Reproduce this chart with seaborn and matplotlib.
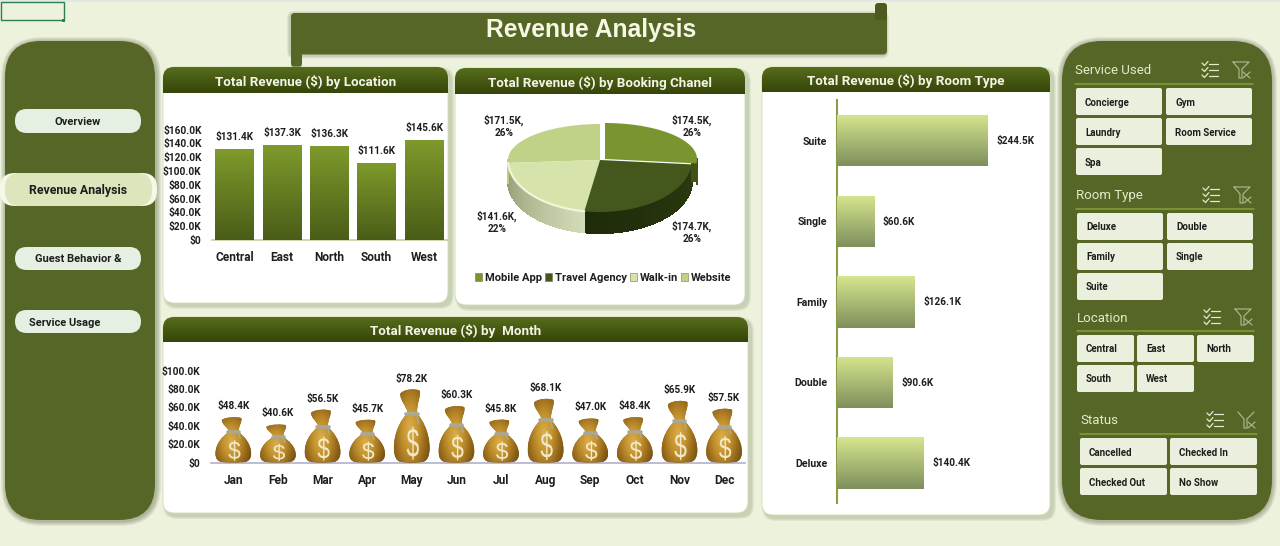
import numpy as np
import seaborn as sns
import matplotlib
matplotlib.use("Agg")
import matplotlib.pyplot as plt
from matplotlib.colors import LinearSegmentedColormap, to_rgb
from matplotlib.font_manager import FontProperties
from matplotlib.patches import FancyBboxPatch, PathPatch, Patch, Polygon, Rectangle
from matplotlib.path import Path
from matplotlib.textpath import TextPath

location_names = ["Central", "East", "North", "South", "West"]
location_revenue = [131.4, 137.3, 136.3, 111.6, 145.6]

channel_names = ["Mobile App", "Travel Agency", "Walk-in", "Website"]
channel_revenue = [174.5, 174.7, 141.6, 171.5]
channel_percent = [26, 26, 22, 26]

month_names = ["Jan", "Feb", "Mar", "Apr", "May", "Jun", "Jul", "Aug", "Sep", "Oct", "Nov", "Dec"]
month_revenue = [48.4, 40.6, 56.5, 45.7, 78.2, 60.3, 45.8, 68.1, 47.0, 48.4, 65.9, 57.5]

room_names = ["Suite", "Single", "Family", "Double", "Deluxe"]
room_revenue = [244.5, 60.6, 126.1, 90.6, 140.4]

location_ticks = [0, 20, 40, 60, 80, 100, 120, 140, 160]
month_ticks = [0, 20, 40, 60, 80, 100]

nav_items = ["Overview", "Revenue Analysis", "Guest Behavior &", "Service Usage"]
service_items = ["Concierge", "Gym", "Laundry", "Room Service", "Spa"]
room_items = ["Deluxe", "Double", "Family", "Single", "Suite"]
location_items = ["Central", "East", "North", "South", "West"]
status_items = ["Cancelled", "Checked In", "Checked Out", "No Show"]

BG = "#ecf2dc"
OLIVE = "#556626"
TEXT = "#1e1e1e"
W, H = 1280, 546


def money(v):
    return "$0" if v == 0 else f"${v:.1f}K"


def axes_px(x0, y0, x1, y1):
    # axes placed by pixel box, y counted from the top like the screenshot
    ax = fig.add_axes([x0 / W, 1 - y1 / H, (x1 - x0) / W, (y1 - y0) / H])
    ax.patch.set_visible(False)
    return ax


def round_box(x0, y0, x1, y1, r, color, z=1, alpha=1.0, ec="none", lw=0):
    box = FancyBboxPatch((x0, y0), x1 - x0, y1 - y0, boxstyle=f"round,pad=0,rounding_size={r}",
                         fc=color, ec=ec, lw=lw, alpha=alpha, zorder=z)
    bg.add_patch(box)
    return box


def soft_shadow(x0, y0, x1, y1, r, dx=2, dy=3, spread=5, color="#3c4526", z=0.5):
    for i in range(spread, 0, -1):
        round_box(x0 + dx - i, y0 + dy - i, x1 + dx + i, y1 + dy + i, r + i, color, z=z, alpha=0.08)


def gradient_fill(ax, x0, x1, y_top, y_bottom, top, bottom, clip, z):
    c0, c1 = np.array(to_rgb(top)), np.array(to_rgb(bottom))
    t = np.linspace(0, 1, 64)[:, None, None]
    img = c0[None, None, :] * (1 - t) + c1[None, None, :] * t
    im = ax.imshow(img, extent=[x0, x1, y_bottom, y_top], origin="upper", aspect="auto", zorder=z)
    im.set_clip_path(clip)
    return im


def card(x0, y0, x1, y1, header_h, title):
    soft_shadow(x0, y0, x1, y1, 11, dx=3, dy=3, spread=3, color="#4d5a2c")
    body = round_box(x0, y0, x1, y1, 11, "white", z=1, ec="#d3dbb6", lw=0.6)
    gradient_fill(bg, x0, x1, y0, y0 + header_h, "#566d1c", "#364509", body, 1.5)
    bg.text((x0 + x1) / 2, y0 + header_h / 2 + 2, title, color="#f2f5e6", fontsize=9.6,
            fontweight="bold", ha="center", va="center", zorder=2)


def style_axes(ax):
    sns.despine(ax=ax, left=True, top=True, right=True)
    ax.set_xlabel("")
    ax.set_ylabel("")
    ax.tick_params(length=0, labelcolor=TEXT)
    ax.tick_params(axis="x", labelsize=8.6)
    ax.tick_params(axis="y", labelsize=7.3)
    for lab in ax.get_xticklabels() + ax.get_yticklabels():
        lab.set_fontweight("bold")


def list_icon(cx, cy, color="#e4ebcc"):
    for dy in (-6, 0, 6):
        bg.plot([cx - 1, cx + 8], [cy + dy, cy + dy], color=color, lw=0.9, zorder=3)
        bg.plot([cx - 8, cx - 5.5, cx - 2], [cy + dy - 1, cy + dy + 1.5, cy + dy - 2.5], color=color, lw=0.9, zorder=3)


def filter_icon(cx, cy, color="#a6b58a", top=True):
    xs = [cx - 8, cx + 8, cx + 1, cx + 1, cx - 2, cx - 2, cx - 8]
    ys = [cy - 8, cy - 8, cy - 1, cy + 8, cy + 8, cy - 1, cy - 8]
    if not top:
        xs, ys = xs[1:], ys[1:]
    bg.plot(xs, ys, color=color, lw=0.9, zorder=3)
    bg.plot([cx + 2, cx + 9], [cy + 2, cy + 8], color=color, lw=0.9, zorder=3)
    bg.plot([cx + 2, cx + 9], [cy + 8, cy + 2], color=color, lw=0.9, zorder=3)


def slicer(title, tx, ty, line_y, line_x1, icons, items, cols, first_y, top_filter=True):
    bg.text(tx, ty + 1, title, color="#e4ebcc", fontsize=9.5, ha="left", va="center", zorder=3)
    bg.plot([tx, line_x1], [line_y, line_y], color="#86a034", lw=1.1, zorder=3)
    list_icon(icons[0], ty)
    filter_icon(icons[1], ty, top=top_filter)
    for n, item in enumerate(items):
        row, col = divmod(n, len(cols))
        x0, x1 = cols[col]
        y0 = first_y + row * 30
        round_box(x0, y0, x1, y0 + 27, 2, "#eaf0dd", z=2)
        bg.text(x0 + 9, y0 + 14.5, item, color=TEXT, fontsize=7, fontweight="bold",
                ha="left", va="center", zorder=3)


sns.set_theme(style="white")
plt.rcParams["font.family"] = ["Roboto", "DejaVu Sans"]

fig = plt.figure(figsize=(12.8, 5.46), dpi=100, facecolor=BG)
bg = fig.add_axes([0, 0, 1, 1])
bg.set_xlim(0, W)
bg.set_ylim(H, 0)
bg.axis("off")

# sheet leftovers: top strip and the selected cell
bg.add_patch(Rectangle((0, 0), W, 2, fc="#e4e8e2", ec="none", zorder=0.2))
bg.add_patch(Rectangle((1, 2), 63, 18, fc="none", ec="#2f7d55", lw=1, zorder=0.3))
bg.add_patch(Rectangle((62, 18.5), 3.2, 3.2, fc="#2f7d55", ec="none", zorder=0.3))

# title banner
soft_shadow(291, 13, 887, 54.5, 4, dx=-1, dy=1, spread=3)
round_box(291, 13, 887, 54.5, 4, OLIVE, z=1)
round_box(291, 13, 302, 68, 5, OLIVE, z=1)
round_box(875, 3, 887, 20, 3, "#4a5a20", z=1)
bg.text(591, 30, "Revenue Analysis", color="#f6f8e4", fontsize=17.7, fontweight="bold",
        family=["Liberation Sans", "DejaVu Sans"], ha="center", va="center", zorder=3)

# left navigation
soft_shadow(5, 41, 155, 520, 36, dx=1, dy=1, spread=5)
round_box(5, 41, 155, 520, 36, OLIVE, z=1)
nav_boxes = [(15, 109, 141, 133), (0, 173, 157, 206), (15, 247, 141, 270), (15, 310, 141, 333)]
for name, (x0, y0, x1, y1) in zip(nav_items, nav_boxes):
    selected = name == "Revenue Analysis"
    if selected:
        round_box(x0, y0, x1, y1, 15, "#f5f8e6", z=2)
        round_box(x0 + 5, y0, x1 - 5, y1, 15, "#dde5bd", z=2.1)
    else:
        round_box(x0, y0, x1, y1, 11.5, "#e6f0e2", z=2)
    tx = 29 if name == "Service Usage" else (x0 + x1) / 2
    bg.text(tx, (y0 + y1) / 2 + 1, name, color=TEXT, fontweight="bold", fontsize=8.9 if selected else 8,
            ha="left" if name == "Service Usage" else "center", va="center", zorder=3)

# right slicer panel
soft_shadow(1062, 41, 1272, 520, 40, dx=0, dy=1, spread=5)
round_box(1062, 41, 1272, 520, 40, OLIVE, z=1)
slicer("Service Used", 1075, 70, 84, 1253, (1210, 1241), service_items, [(1076, 1162), (1166, 1252)], 88)
slicer("Room Type", 1076, 195, 209, 1254, (1211, 1242), room_items, [(1077, 1163), (1167, 1253)], 213)
slicer("Location", 1077, 317, 331, 1254, (1212, 1243), location_items,
       [(1077, 1134), (1137, 1194), (1197, 1254)], 335)
slicer("Status", 1080, 420, 433.5, 1257, (1215, 1246), status_items,
       [(1080, 1167), (1170, 1257)], 438, top_filter=False)

card(163, 67, 448, 303, 26, "Total Revenue ($) by Location")
card(455, 68, 745, 305, 26, "Total Revenue ($) by Booking Chanel")
card(163, 317, 748, 513, 25, "Total Revenue ($) by  Month")
card(762, 67, 1050, 515, 25, "Total Revenue ($) by Room Type")
bg.set_xlim(0, W)
bg.set_ylim(H, 0)

# location bars
ax = axes_px(212, 129.6, 448, 240)
sns.barplot(x=location_names, y=location_revenue, color="#6a8223", saturation=1, width=0.82, ax=ax)
for bar in ax.patches:
    gradient_fill(ax, bar.get_x(), bar.get_x() + bar.get_width(), bar.get_height(), 0,
                  "#7f9a2c", "#4a5d17", bar, 3)
ax.set_xlim(-0.477, 4.506)
ax.set_ylim(0, 160)
ax.set_yticks(location_ticks, [money(v) for v in location_ticks])
style_axes(ax)
ax.spines["bottom"].set_color("#c8d2a2")
ax.tick_params(axis="x", pad=8)
ax.tick_params(axis="y", pad=7.5)
ax.bar_label(ax.containers[0], labels=[money(v) for v in location_revenue], padding=5,
             fontsize=7.2, fontweight="bold", color=TEXT)

# pie, squashed by hand so it reads as the tilted 3D chart
ax = axes_px(455, 95, 745, 300)
pie_colors = ["#7a942f", "#44571c", "#d6e3ab", "#c0d188"]
pie_sides = [("#3f5218", "#3f5218"), ("#1f2a0a", "#2b3a10"), ("#d3dcb8", "#8f9a70"), ("#bccf80", "#bccf80")]
wedges, _ = ax.pie(channel_revenue, startangle=90, counterclock=False, center=(600, 160), radius=92,
                   colors=pie_colors)
ax.set_aspect("auto")
ax.set_xlim(455, 745)
ax.set_ylim(300, 95)
depth = 21


def rim(cx, cy, theta, r=92):
    t = np.radians(theta)
    s = np.sin(t)
    return cx + r * np.cos(t), cy - r * s * (36 / 92 if s > 0 else 52 / 92)


offsets = [(5, -1), (0, 0), (0, 0), (0, 0)]
for w, (dx, dy), (c0, c1) in zip(wedges, offsets, pie_sides):
    w.set_visible(False)
    cx, cy = 600 + dx, 160 + dy
    angles = np.arange(max(w.theta1, -180), min(w.theta2, 0), 1.5)
    angles = np.append(angles, min(w.theta2, 0))
    c0, c1 = np.array(to_rgb(c0)), np.array(to_rgb(c1))
    for k in range(len(angles) - 1):
        (xa, ya), (xb, yb) = rim(cx, cy, angles[k]), rim(cx, cy, angles[k + 1])
        f = k / max(len(angles) - 2, 1)
        col = c0 * (1 - f) + c1 * f
        if w.theta1 < -100:
            col = c1 * (1 - f) + c0 * f
        ax.add_patch(Polygon([(xa, ya), (xb, yb), (xb, yb + depth), (xa, ya + depth)],
                             fc=col, ec=col, lw=0.8, antialiased=False, zorder=2))
for w, (dx, dy), col in list(zip(wedges, offsets, pie_colors))[::-1]:
    cx, cy = 600 + dx, 160 + dy
    arc = [rim(cx, cy, a) for a in np.linspace(w.theta1, w.theta2, 90)]
    zz = 4 if w is wedges[0] else 3
    ax.add_patch(Polygon([(cx, cy)] + arc, fc=col, ec="none", zorder=zz))
    if w is wedges[2]:
        ax.plot(*zip(*arc), color="#f3f6dc", lw=1.5, zorder=3.2)
# cut face of the pulled out slice
px, py = rim(605, 159, wedges[0].theta1)
ax.add_patch(Polygon([(px, py), (px, py + 19), (px - 6, py + 19), (px - 6, py)], fc="#3f5218", ec="none", zorder=2.5))

pie_label_pos = [(692, 126), (692, 232), (497, 222), (504, 126)]
for val, pct, (lx, ly) in zip(channel_revenue, channel_percent, pie_label_pos):
    ax.text(lx, ly, f"{money(val)},\n{pct}%", ha="center", va="center", fontsize=7.2,
            fontweight="bold", color=TEXT, linespacing=1.25, zorder=5)
legend_handles = [Patch(fc=c, ec="#6d7d45", lw=0.4, label=n) for c, n in zip(pie_colors, channel_names)]
ax.legend(handles=legend_handles, ncol=4, frameon=False, loc="center",
          bbox_to_anchor=(603 / W, 1 - 278 / H), bbox_transform=fig.transFigure,
          prop={"weight": "bold", "size": 8}, handlelength=0.65, handleheight=0.65,
          handletextpad=0.25, columnspacing=0.25, labelcolor=TEXT, borderpad=0)

# month money bags
ax = axes_px(211, 370.7, 745, 462.5)
sns.barplot(x=month_names, y=month_revenue, color="#a87a20", alpha=0, width=0.8, ax=ax)
ax.set_xlim(-0.5, 11.47)
ax.set_ylim(0, 100)
bag_cmap = LinearSegmentedColormap.from_list("bag", ["#dcae4c", "#c4932f", "#96691b", "#65460d"])
BODY = [(-0.13, 0.68), (-0.3, 0.6), (-0.5, 0.42), (-0.5, 0.2), (-0.5, 0.08), (-0.42, 0.02), (-0.32, 0.01),
        (-0.2, -0.01), (0.2, -0.01), (0.32, 0.01), (0.42, 0.02), (0.5, 0.08), (0.5, 0.2), (0.5, 0.42),
        (0.3, 0.6), (0.15, 0.68), (-0.13, 0.68)]
BODY_CODES = [Path.MOVETO] + [Path.CURVE4] * 15 + [Path.CLOSEPOLY]
FLARE = [(-0.12, 0.7), (-0.16, 0.8), (-0.33, 0.86), (-0.32, 0.96), (-0.2, 1.03), (0.12, 1.03), (0.22, 1.0),
         (0.26, 0.92), (0.14, 0.82), (0.15, 0.7), (-0.12, 0.7)]
FLARE_CODES = [Path.MOVETO] + [Path.CURVE4] * 9 + [Path.CLOSEPOLY]
dollar = TextPath((0, 0), "$", size=1, prop=FontProperties(family="Liberation Sans"))
d_ext = dollar.get_extents()
dollar_verts = (dollar.vertices - [d_ext.x0 + d_ext.width / 2, d_ext.y0 + d_ext.height / 2]) \
    / [d_ext.width, d_ext.height] * [0.34, 0.46] + [0.03, 0.27]
yy, xx = np.mgrid[1:-0.0:80j, 0:1:80j]
shade = np.clip(np.hypot((xx - 0.45) * 1.5, (yy - 0.45) * 1.1), 0, 1)
for bar in ax.patches:
    cx, bag_w, bag_h = bar.get_x() + bar.get_width() / 2, bar.get_width(), bar.get_height()
    to_data = lambda v: np.asarray(v) * [bag_w, bag_h] + [cx, 0]
    for verts, codes, z in [(BODY, BODY_CODES, 3), (FLARE, FLARE_CODES, 3.4)]:
        shape = PathPatch(Path(to_data(verts), codes), fc="#8b6317", ec="none", zorder=z)
        ax.add_patch(shape)
        im = ax.imshow(shade, cmap=bag_cmap, vmin=0, vmax=1, aspect="auto", zorder=z + 0.1,
                       extent=[cx - bag_w / 2, cx + bag_w / 2, 0, bag_h * 1.02], origin="upper")
        im.set_clip_path(shape)
    ax.plot(*to_data([(-0.15, 0.68), (0.17, 0.68)]).T, color="#a9a796", lw=2.6, zorder=3.7, solid_capstyle="round")
    ax.plot(*to_data([(0.14, 0.68), (0.19, 0.55)]).T, color="#a9a796", lw=1.2, zorder=3.7)
    ax.add_patch(PathPatch(Path(to_data(dollar_verts), dollar.codes), fc="#f1e8c6", ec="none", zorder=3.8))
ax.set_xlim(-0.5, 11.47)
ax.set_ylim(0, 100)
ax.set_yticks(month_ticks, [money(v) for v in month_ticks])
style_axes(ax)
ax.spines["bottom"].set_color("#b6b4d0")
ax.tick_params(axis="x", pad=8)
ax.tick_params(axis="y", pad=7.5)
ax.bar_label(ax.containers[0], labels=[money(v) for v in month_revenue], padding=5,
             fontsize=7.2, fontweight="bold", color=TEXT)

# room type bars
ax = axes_px(837, 100, 1045, 503)
sns.barplot(y=room_names, x=room_revenue, color="#a8ba72", saturation=1, width=0.634, orient="h", ax=ax)
for bar in ax.patches:
    gradient_fill(ax, 0, bar.get_width(), bar.get_y(), bar.get_y() + bar.get_height(),
                  "#d5e68f", "#7f8f5c", bar, 3)
ax.set_xlim(0, 336.8)
ax.set_ylim(4.497, -0.509)
ax.set_xticks([])
style_axes(ax)
sns.despine(ax=ax, left=False, bottom=True, top=True, right=True)
ax.spines["left"].set_color("#8b9c45")
ax.spines["left"].set_linewidth(1.5)
ax.tick_params(axis="y", pad=7, labelsize=7.6)
ax.bar_label(ax.containers[0], labels=[money(v) for v in room_revenue], padding=6,
             fontsize=7.2, fontweight="bold", color=TEXT)

fig.savefig("out.png", dpi=100, facecolor=BG)
